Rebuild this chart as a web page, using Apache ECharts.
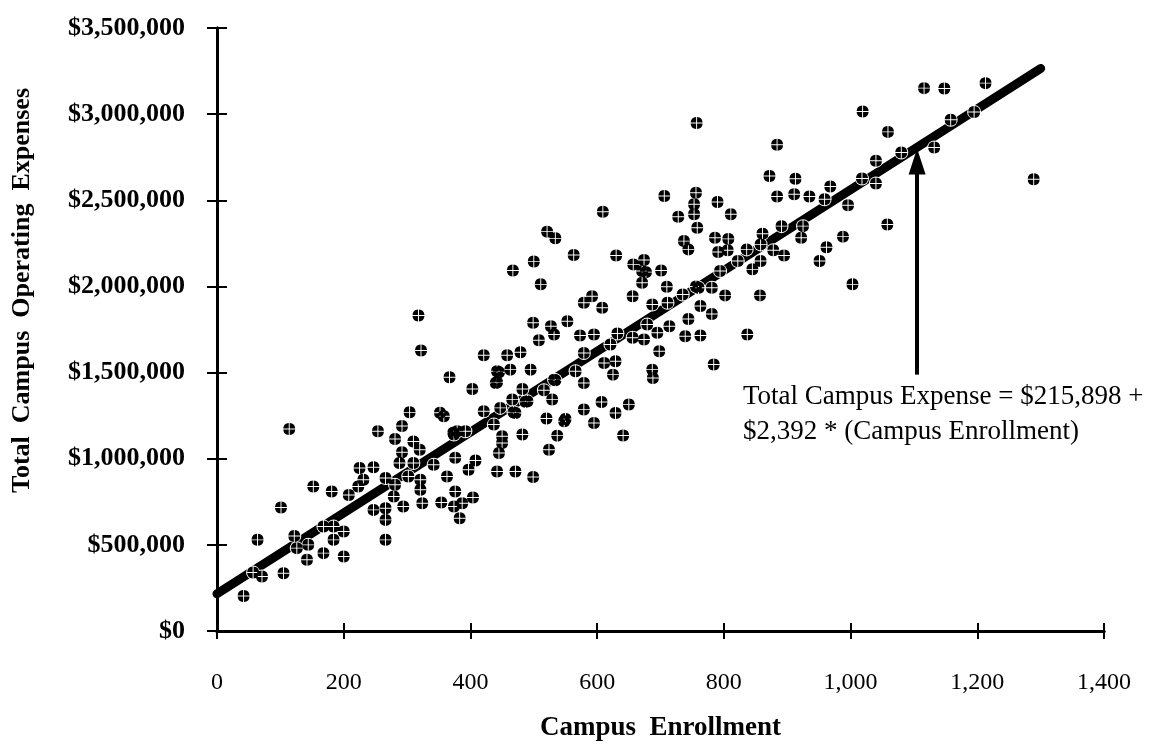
<!DOCTYPE html>
<html>
<head>
<meta charset="utf-8">
<script src="https://cdn.jsdelivr.net/npm/echarts@6/dist/echarts.min.js"></script>
<style>
  html, body { margin: 0; padding: 0; background: #fff; }
  #chart { width: 1159px; height: 747px; }
</style>
</head>
<body>
<div id="chart"></div>
<script>
// campus enrollment (x) and total operating expense in $ (y)
const enrollment = [
  42, 57, 64, 71, 101, 105, 114, 122, 126, 142, 144, 152, 168, 168, 181, 184, 184, 200, 200, 208,
  223, 225, 231, 247, 247, 254, 266, 266, 266, 266, 279, 281, 281, 288, 292, 292, 294, 302, 304, 310,
  310, 318, 320, 321, 321, 322, 324, 342, 352, 354, 358, 363, 367, 373, 374, 374, 376, 376, 379, 383,
  387, 392, 397, 403, 404, 408, 421, 421, 437, 440, 442, 442, 442, 445, 445, 447, 450, 450, 458, 463,
  466, 467, 468, 471, 471, 479, 482, 482, 487, 490, 495, 499, 499, 500, 508, 511, 516, 520, 521, 524,
  527, 529, 532, 532, 534, 534, 537, 548, 550, 553, 563, 566, 573, 579, 579, 579, 579, 592, 595, 595,
  607, 608, 609, 611, 621, 625, 629, 629, 630, 632, 641, 650, 656, 656, 657, 671, 671, 674, 674, 677,
  679, 687, 687, 688, 695, 698, 701, 706, 710, 711, 714, 728, 735, 737, 739, 744, 744, 753, 753, 756,
  756, 757, 758, 760, 763, 763, 781, 781, 784, 786, 790, 791, 794, 802, 806, 807, 811, 822, 836, 837,
  845, 857, 858, 858, 861, 872, 878, 884, 884, 891, 895, 911, 913, 922, 925, 935, 951, 959, 962, 968,
  988, 996, 1003, 1018, 1019, 1040, 1040, 1058, 1059, 1080, 1116, 1132, 1148, 1158, 1195, 1213, 1289
];
const expense = [
  203000, 339000, 529000, 316000, 717000, 335000, 1173000, 552000, 481000, 413000, 500000, 839000, 606000, 452000, 810000, 529000, 606000, 577000, 432000, 790000,
  839000, 946000, 878000, 950000, 703000, 1159000, 888000, 713000, 645000, 529000, 781000, 849000, 1115000, 975000, 1190000, 1037000, 723000, 897000, 1269000, 1100000,
  975000, 1831000, 1052000, 878000, 820000, 1628000, 742000, 965000, 1267000, 746000, 1246000, 897000, 1473000, 1150000, 723000, 1140000, 1005000, 810000, 1159000, 655000,
  742000, 1159000, 936000, 1405000, 775000, 990000, 1600000, 1275000, 1198000, 1440000, 1444000, 1508000, 926000, 1502000, 1033000, 1295000, 1130000, 1091000, 1600000, 1517000,
  1343000, 2093000, 1270000, 1265000, 926000, 1618000, 1405000, 1140000, 1330000, 1333000, 1517000, 1789000, 894000, 2144000, 1688000, 2012000, 1397000, 1233000, 2318000, 1052000,
  1769000, 1343000, 1721000, 1459000, 2279000, 1455000, 1134000, 1217000, 1230000, 1798000, 2182000, 1508000, 1715000, 1905000, 1614000, 1440000, 1285000, 1943000, 1721000, 1207000,
  1329000, 1876000, 2434000, 1556000, 1663000, 1488000, 1566000, 1265000, 2180000, 1727000, 1135000, 1314000, 1943000, 1702000, 2128000, 2089000, 2021000, 2153000, 1692000, 2083000,
  1779000, 1895000, 1517000, 1469000, 1731000, 1624000, 2093000, 2525000, 1998000, 1905000, 1769000, 2405000, 1953000, 2263000, 1711000, 2215000, 1811000, 2477000, 2419000, 2544000,
  2000000, 2948000, 2340000, 1992000, 1886000, 1715000, 1992000, 1840000, 1547000, 2282000, 2490000, 2200000, 2089000, 1948000, 2210000, 2276000, 2419000, 2148000, 2215000, 1721000,
  2099000, 1948000, 2244000, 2148000, 2306000, 2641000, 2210000, 2822000, 2522000, 2350000, 2180000, 2535000, 2625000, 2282000, 2350000, 2522000, 2148000, 2506000, 2228000, 2580000,
  2289000, 2471000, 2012000, 2626000, 3015000, 2729000, 2597000, 2360000, 2897000, 2777000, 3151000, 2806000, 3149000, 2967000, 3013000, 3180000, 2622000
];

// fitted line as drawn (ends)
const fitX = [0, 1300];
const fitY = [216000, 3265000];

// arrow pointing at the fitted line: x, shaft bottom, shaft top, tip
const arrowX = 1105;
const arrowShaft = [1488000, 2660000];
const arrowTip = 2800000;

const noteLines = ['Total Campus Expense = $215,898 +', '$2,392 * (Campus Enrollment)'];

const xMax = 1400, xStep = 200;
const yMax = 3500000, yStep = 500000;

const serif = '"Liberation Serif", "Times New Roman", serif';

const points = enrollment.map((x, i) => [x, expense[i]]);

// black disc split into four lobes by a thin white cross
const flower = 'path://M10.8,0.03 A10,10 0 0 1 19.97,9.2 L10.8,9.2 Z ' +
  'M19.97,10.8 A10,10 0 0 1 10.8,19.97 L10.8,10.8 Z ' +
  'M9.2,19.97 A10,10 0 0 1 0.03,10.8 L9.2,10.8 Z ' +
  'M0.03,9.2 A10,10 0 0 1 9.2,0.03 L9.2,9.2 Z';

const axisLine = { show: true, lineStyle: { color: '#000', width: 3 } };
const tickStyle = { color: '#000', width: 2 };

const chart = echarts.init(document.getElementById('chart'));
chart.setOption({
  backgroundColor: '#fff',
  animation: false,
  grid: { left: 217, right: 55, top: 28, bottom: 116, containLabel: false, outerBoundsMode: 'none' },
  xAxis: [
    {
      type: 'value', min: 0, max: xMax, interval: xStep,
      axisLine,
      axisTick: { show: true, inside: false, length: 8, lineStyle: tickStyle },
      splitLine: { show: false },
      axisLabel: {
        margin: 40, color: '#000', fontFamily: serif, fontSize: 24,
        formatter: (v) => v.toLocaleString('en-US')
      },
      name: 'Campus  Enrollment',
      nameLocation: 'middle',
      nameGap: 84,
      nameTextStyle: { color: '#000', fontFamily: serif, fontSize: 27, fontWeight: 'bold' }
    },
    {
      // second copy of the x axis only to make the ticks cross the line
      type: 'value', min: 0, max: xMax, interval: xStep, position: 'bottom',
      axisLine,
      axisTick: { show: true, inside: true, length: 8, lineStyle: tickStyle },
      axisLabel: { show: false }, splitLine: { show: false }
    }
  ],
  yAxis: [
    {
      type: 'value', min: 0, max: yMax, interval: yStep,
      axisLine,
      axisTick: { show: true, inside: false, length: 10, lineStyle: tickStyle },
      splitLine: { show: false },
      axisLabel: {
        margin: 32, color: '#000', fontFamily: serif, fontSize: 26, fontWeight: 'bold',
        formatter: (v) => '$' + v.toLocaleString('en-US')
      },
      name: 'Total  Campus  Operating  Expenses',
      nameLocation: 'middle',
      nameGap: 182,
      nameTextStyle: { color: '#000', fontFamily: serif, fontSize: 26, fontWeight: 'bold', padding: [0, 0, 0, 78] }
    },
    {
      type: 'value', min: 0, max: yMax, interval: yStep, position: 'left',
      axisLine,
      axisTick: { show: true, inside: true, length: 10, lineStyle: tickStyle },
      axisLabel: { show: false }, splitLine: { show: false }
    }
  ],
  series: [
    {
      name: 'fit',
      type: 'line',
      data: fitX.map((x, i) => [x, fitY[i]]),
      showSymbol: false,
      symbol: 'none',
      lineStyle: { color: '#000', width: 9, cap: 'round' },
      z: 1,
      markLine: {
        silent: true,
        symbol: ['none', 'none'],
        label: { show: false },
        lineStyle: { color: '#000', width: 4, type: 'solid' },
        data: [[{ coord: [arrowX, arrowShaft[0]] }, { coord: [arrowX, arrowShaft[1]] }]]
      }
    },
    {
      name: 'halo',
      type: 'scatter',
      data: points,
      symbol: 'circle',
      symbolSize: 14,
      itemStyle: { color: '#fff', opacity: 1 },
      silent: true,
      z: 2
    },
    {
      name: 'campuses',
      type: 'scatter',
      data: points,
      symbol: flower,
      symbolSize: 12,
      itemStyle: { color: '#000', opacity: 1 },
      z: 3
    },
    {
      name: 'arrowHead',
      type: 'scatter',
      data: [[arrowX, arrowTip]],
      symbol: 'triangle',
      symbolSize: [17, 26],
      symbolOffset: [0, 13],
      itemStyle: { color: '#000', opacity: 1 },
      z: 4
    }
  ],
  graphic: [
    {
      type: 'text',
      left: 953 - 210,
      top: 379,
      style: {
        text: noteLines.join('\n'),
        fill: '#000',
        font: '27px ' + serif,
        lineHeight: 35,
        align: 'center',
        width: 420
      }
    }
  ]
});
</script>
</body>
</html>
